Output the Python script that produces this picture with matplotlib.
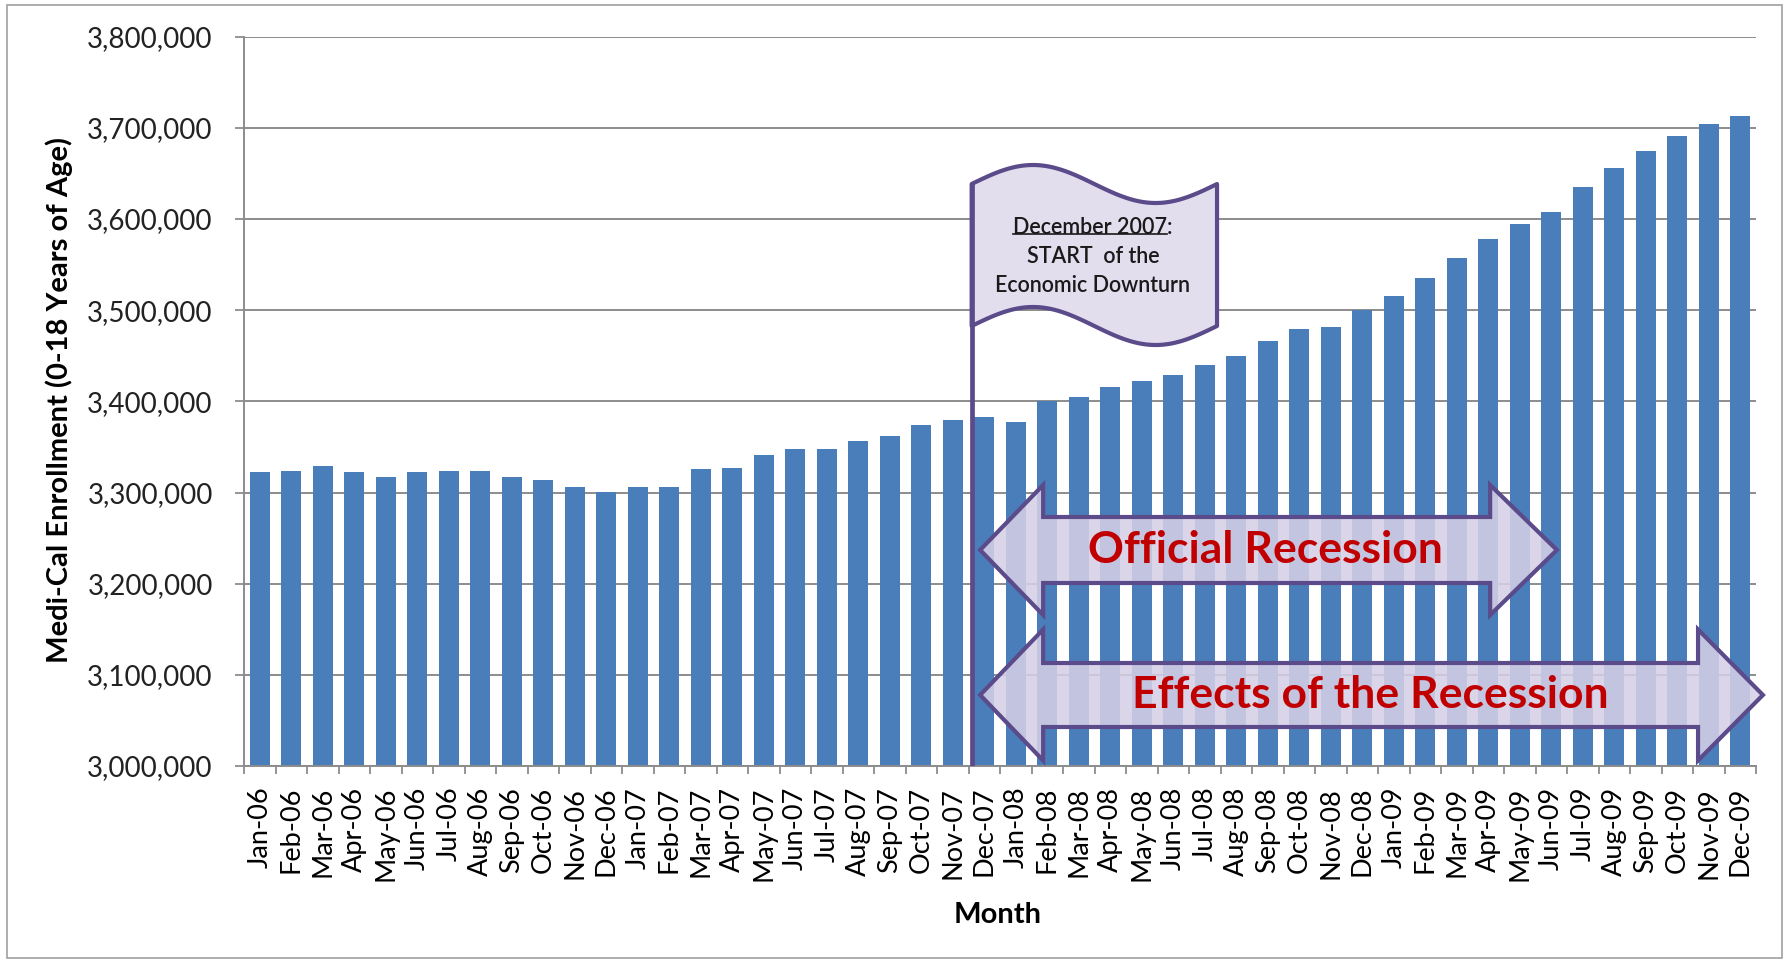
import numpy as np
import matplotlib
matplotlib.use('Agg')
import matplotlib.pyplot as plt
from matplotlib.patches import Polygon, Rectangle
from matplotlib.lines import Line2D
from matplotlib.transforms import IdentityTransform
from matplotlib.ticker import FuncFormatter

plt.rcParams['font.family'] = ['Lato', 'DejaVu Sans']

# monthly Medi-Cal enrollment, ages 0-18, Jan 2006 - Dec 2009
months = ['Jan', 'Feb', 'Mar', 'Apr', 'May', 'Jun',
          'Jul', 'Aug', 'Sep', 'Oct', 'Nov', 'Dec']
years = ['06', '07', '08', '09']
month_labels = [f'{m}-{y}' for y in years for m in months]

enrollment = [
    3322000, 3323700, 3328800, 3322000, 3316800, 3322000,
    3323700, 3323700, 3316800, 3313500, 3306200, 3300700,
    3306200, 3306200, 3325500, 3327300, 3340800, 3348100,
    3348100, 3356900, 3362000, 3374500, 3379500, 3382800,
    3377700, 3400800, 3404800, 3415400, 3422000, 3428600,
    3439600, 3449900, 3466000, 3479600, 3481300, 3500400,
    3516000, 3535000, 3557000, 3578500, 3594000, 3608000,
    3635000, 3656000, 3675000, 3691000, 3704000, 3713000,
]

BAR = '#4A7EBB'
GRID = '#8C8C8C'
PURPLE = '#5B4B8A'
RED = '#C00000'

fig = plt.figure(figsize=(17.85, 9.63), dpi=100)
ax = fig.add_axes([244 / 1785, 197 / 963, 1512 / 1785, 729.3 / 963])

x = np.arange(len(enrollment))
ax.bar(x, enrollment, width=0.63, color=BAR, zorder=2)

ax.set_xlim(-0.5, len(enrollment) - 0.5)
ax.set_ylim(3000000, 3800000)
ax.set_yticks(np.arange(3000000, 3800001, 100000))
ax.yaxis.set_major_formatter(FuncFormatter(lambda v, p: f'{int(v):,}'))
ax.set_axisbelow(True)
ax.grid(axis='y', color=GRID, lw=1.4)

# ticks between categories, labels at bar centres
ax.set_xticks(np.arange(-0.5, len(enrollment), 1))
ax.set_xticklabels([])
ax.set_xticks(x, minor=True)
ax.set_xticklabels(month_labels, minor=True, rotation=90, fontsize=19.5)
ax.tick_params(axis='x', which='major', length=6, width=1.3, color=GRID)
ax.tick_params(axis='x', which='minor', length=0, pad=15)
ax.tick_params(axis='y', length=6.5, width=1.3, color=GRID, pad=16,
               labelsize=20, labelcolor='#222222')

for s in ['top', 'right']:
    ax.spines[s].set_visible(False)
for s in ['left', 'bottom']:
    ax.spines[s].set_color(GRID)
    ax.spines[s].set_linewidth(1.4)

ax.set_ylabel('Medi-Cal Enrollment (0-18 Years of Age)', fontsize=21,
              fontweight='bold')
ax.yaxis.label.set_va('center')
ax.yaxis.set_label_coords(-0.1224, 0.502)
ax.set_xlabel('Month', fontsize=21, fontweight='bold')
ax.xaxis.label.set_va('center')
ax.xaxis.set_label_coords(0.4987, -0.204)

# flag marking the start of the downturn
py = 800000 / 729.3          # enrollment units per pixel
pole_x = 22.6
flag_right = 30.39
top0 = 3000000 + 582 * py
bot0 = 3000000 + 440 * py
amp = 19 * py
u = np.linspace(0, 1, 120)
fx = pole_x + u * (flag_right - pole_x)
wave = amp * np.sin(2 * np.pi * u)
flag_pts = np.vstack([np.column_stack([fx, top0 + wave]),
                      np.column_stack([fx[::-1], (bot0 + wave)[::-1]])])
ax.add_patch(Polygon(flag_pts, closed=True, facecolor='#E3DEEE',
                     edgecolor=PURPLE, lw=3, joinstyle='round', zorder=5))
ax.plot([pole_x, pole_x], [3000000, top0], color=PURPLE, lw=3.4,
        solid_capstyle='butt', zorder=6)

flag_cx = 26.45
flag_font = dict(ha='center', va='center', fontsize=15.5,
                 fontweight='semibold', color='#1a1a1a', zorder=7)
t1 = ax.text(flag_cx, 3000000 + 538 * py, 'December 2007:', **flag_font)
ax.text(flag_cx, 3000000 + 509 * py, 'START  of the', **flag_font)
ax.text(flag_cx, 3000000 + 481 * py, 'Economic Downturn', **flag_font)


def double_arrow(x_tip_l, x_base_l, x_base_r, x_tip_r, cy, head, shaft):
    pts = [(x_tip_l, cy), (x_base_l, cy + head), (x_base_l, cy + shaft),
           (x_base_r, cy + shaft), (x_base_r, cy + head), (x_tip_r, cy),
           (x_base_r, cy - head), (x_base_r, cy - shaft),
           (x_base_l, cy - shaft), (x_base_l, cy - head)]
    ax.add_patch(Polygon(pts, closed=True, facecolor='#D6CFE6', alpha=0.87,
                         edgecolor='none', clip_on=False, zorder=8))
    ax.add_patch(Polygon(pts, closed=True, facecolor='none',
                         edgecolor=PURPLE, lw=3, joinstyle='miter',
                         clip_on=False, zorder=9))


rec_y = 3000000 + 216 * py
eff_y = 3000000 + 71 * py
double_arrow(22.87, 24.87, 39.06, 41.18, rec_y, 65 * py, 33 * py)
double_arrow(22.87, 24.87, 45.66, 47.72, eff_y, 65.5 * py, 32 * py)

ax.text(31.94, rec_y, 'Official Recession', ha='center', va='center',
        fontsize=32, fontweight='bold', color=RED, zorder=10)
ax.text(35.25, eff_y, 'Effects of the Recession', ha='center', va='center',
        fontsize=32, fontweight='bold', color=RED, zorder=10)

# chart border
fig.add_artist(Rectangle((7 / 1785, 5 / 963), 1775 / 1785, 953 / 963,
                         transform=fig.transFigure, fill=False,
                         edgecolor='#A0A0A0', lw=1.2))

# underline the date (without the colon)
fig.canvas.draw()
r = fig.canvas.get_renderer()
bb = t1.get_window_extent(r)
tmp = ax.text(0, 0, ':', fontsize=15.5, fontweight='semibold')
colon_w = tmp.get_window_extent(r).width
tmp.remove()
uy = bb.y0 + 0.2 * bb.height
fig.add_artist(Line2D([bb.x0, bb.x1 - colon_w], [uy, uy],
                      transform=IdentityTransform(), color='#1a1a1a',
                      lw=1.2, zorder=11))

fig.savefig('out.png', dpi=100, facecolor='white')
